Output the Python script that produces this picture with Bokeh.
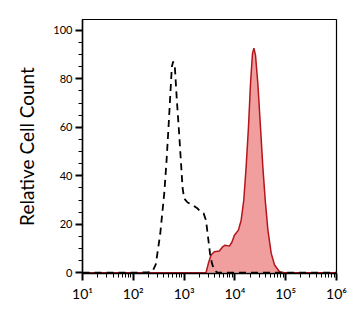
from bokeh.plotting import figure
from bokeh.models import FixedTicker, Range1d
from bokeh.embed import file_html
from bokeh.resources import INLINE

# Isotype control (dashed): log10 fluorescence, relative count
iso_log = [1.0, 2.0, 2.3, 2.377, 2.443, 2.53, 2.61, 2.654, 2.693, 2.726, 2.759, 2.785,
           2.818, 2.858, 2.904, 2.937, 2.97, 3.002, 3.069, 3.167, 3.266, 3.332,
           3.384, 3.431, 3.464, 3.51, 3.549, 3.595, 3.662, 4.5, 6.0]
iso_cnt = [0, 0, 0.3, 0.5, 3.5, 16, 33, 46, 60, 72.5, 85, 87.2,
           85, 71, 57, 46, 35, 30.6, 29, 28, 26.5, 25,
           24.5, 21.7, 16, 8, 3.8, 1, 0, 0, 0]

# Stained sample (red fill)
smp_log = [1.0, 3.3, 3.431, 3.477, 3.53, 3.595, 3.694, 3.76, 3.806, 3.892, 3.945, 3.99,
           4.069, 4.123, 4.175, 4.221, 4.267, 4.307, 4.346, 4.374, 4.406, 4.452,
           4.504, 4.55, 4.597, 4.65, 4.715, 4.781, 4.879, 4.978, 6.0]
smp_cnt = [0, 0, 0, 3.8, 7.3, 8.7, 9, 10.7, 11.4, 11, 12.8, 15.5,
           17.6, 21.7, 30, 43.7, 60, 78, 90.4, 92.7, 89.7, 78,
           60, 43.7, 30, 17.6, 8, 3.2, 0.4, 0, 0]

y_ticks = [0, 20, 40, 60, 80, 100]
x_ticks = [10, 100, 1000, 10000, 100000, 1000000]
x_labels = ["10¹", "10²", "10³", "10⁴", "10⁵", "10⁶"]

iso_x = [10 ** v for v in iso_log]
smp_x = [10 ** v for v in smp_log]

p = figure(width=361, height=313, x_axis_type="log", output_backend="svg",
           toolbar_location=None,
           x_range=Range1d(10, 1e6), y_range=Range1d(-0.3, 104.5),
           min_border_left=82, min_border_right=25, min_border_top=19,
           min_border_bottom=40)
p.background_fill_color = "white"
p.border_fill_color = "white"
p.outline_line_color = "black"
p.outline_line_width = 1.2
p.xgrid.visible = False
p.ygrid.visible = False

p.varea(x=smp_x, y1=[0] * len(smp_x), y2=smp_cnt, fill_color="#F19E9E")
p.line(smp_x, smp_cnt, line_color="#B3161B", line_width=1.5)
p.line(iso_x, iso_cnt, line_color="black", line_width=1.8, line_dash="7 5")

minor_x = [m * 10 ** d for d in range(1, 6) for m in range(2, 10)]
p.xaxis.ticker = FixedTicker(ticks=x_ticks, minor_ticks=minor_x)
p.xaxis.major_label_overrides = {t: l for t, l in zip(x_ticks, x_labels)}
p.yaxis.ticker = FixedTicker(ticks=y_ticks, minor_ticks=list(range(0, 105, 5)))

for ax in (p.xaxis[0], p.yaxis[0]):
    ax.major_tick_in = 0
    ax.minor_tick_in = 0
    ax.major_tick_out = 7
    ax.minor_tick_out = 4
    ax.major_tick_line_width = 2
    ax.minor_tick_line_width = 1
    ax.axis_line_width = 1.5
    ax.major_label_text_font = "Lato"
    ax.major_label_text_color = "black"
    ax.major_label_text_font_size = "11px"

p.xaxis.major_label_text_font_size = "14px"
p.xaxis.major_label_standoff = 4
p.yaxis.major_label_standoff = 3
p.yaxis.axis_label = "Relative Cell Count"
p.yaxis.axis_label_text_font = "Lato"
p.yaxis.axis_label_text_font_style = "normal"
p.yaxis.axis_label_text_font_size = "19px"
p.yaxis.axis_label_text_color = "black"
p.yaxis.axis_label_standoff = 12

open("out.html", "w").write(file_html(p, INLINE))
